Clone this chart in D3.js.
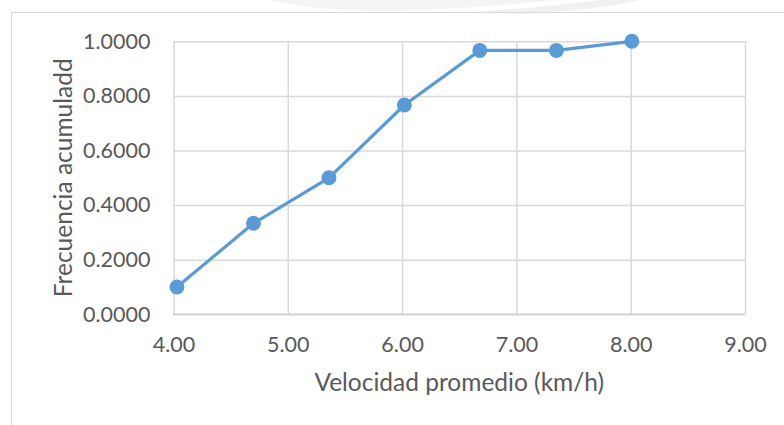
<!DOCTYPE html>
<html>
<head>
<meta charset="utf-8">
<script src="https://cdn.jsdelivr.net/npm/d3@7"></script>
<style>
  html, body { margin: 0; padding: 0; background: #fff; }
  svg { display: block; }
</style>
</head>
<body>
<svg id="chart" width="784" height="425"></svg>
<script>
// Cumulative frequency by mean speed class
const speeds = [4.03, 4.70, 5.36, 6.02, 6.68, 7.35, 8.01];
const cumFreq = [0.1000, 0.3333, 0.5000, 0.7667, 0.9667, 0.9667, 1.0000];
const xTicks = [4, 5, 6, 7, 8, 9];
const yTicks = [0, 0.2, 0.4, 0.6, 0.8, 1.0];
const xTitle = "Velocidad promedio (km/h)";
const yTitle = "Frecuencia acumuladd";

const svg = d3.select("#chart");
const W = 784, H = 425;
const plot = { left: 173.5, right: 745, top: 41.3, bottom: 314.3 };
const font = "Lato, 'Open Sans', sans-serif";
const textColor = "#595959";

// faint background mark above the frame
const wm = svg.append("g").attr("fill", "#f4f4f4");
wm.append("path").attr("d", "M270,0 Q330,14 420,10 Q500,6 560,0 Z");
wm.append("path").attr("d", "M470,12 Q540,8 600,0 L640,0 Q600,10 520,14 Z").attr("fill", "#f1f1f1");

// chart frame
svg.append("rect")
  .attr("x", 11.5).attr("y", 12.5)
  .attr("width", W).attr("height", H)
  .attr("fill", "none").attr("stroke", "#d9d9d9").attr("stroke-width", 1);

const x = d3.scaleLinear().domain([4, 9]).range([plot.left, plot.right]);
const y = d3.scaleLinear().domain([0, 1]).range([plot.bottom, plot.top]);

// gridlines
const grid = svg.append("g");
grid.append("g")
  .attr("transform", `translate(0,${plot.bottom})`)
  .call(d3.axisBottom(x).tickValues(xTicks).tickSize(-(plot.bottom - plot.top)).tickFormat(""))
  .call(g => g.select(".domain").remove())
  .call(g => g.selectAll("line").attr("stroke", "#d9d9d9").attr("stroke-width", 1.5));
grid.append("g")
  .attr("transform", `translate(${plot.left},0)`)
  .call(d3.axisLeft(y).tickValues(yTicks).tickSize(-(plot.right - plot.left)).tickFormat(""))
  .call(g => g.select(".domain").remove())
  .call(g => g.selectAll("line").attr("stroke", "#d9d9d9").attr("stroke-width", 1.5));

// baseline axis
svg.append("line")
  .attr("x1", plot.left).attr("x2", plot.right)
  .attr("y1", y(0)).attr("y2", y(0))
  .attr("stroke", "#cfcfcf").attr("stroke-width", 1.5);

// tick labels
const xAxis = svg.append("g")
  .attr("transform", `translate(0,${plot.bottom})`)
  .call(d3.axisBottom(x).tickValues(xTicks).tickSize(0).tickPadding(22).tickFormat(d3.format(".2f")));
xAxis.select(".domain").remove();
xAxis.selectAll("text").attr("font-family", font).attr("font-size", 21.5).attr("fill", textColor);

const yAxis = svg.append("g")
  .attr("transform", `translate(${plot.left},0)`)
  .call(d3.axisLeft(y).tickValues(yTicks).tickSize(0).tickPadding(23).tickFormat(d3.format(".4f")));
yAxis.select(".domain").remove();
yAxis.selectAll("text").attr("font-family", font).attr("font-size", 21.5).attr("fill", textColor);

// axis titles
svg.append("text")
  .attr("x", (plot.left + plot.right) / 2).attr("y", 391)
  .attr("text-anchor", "middle")
  .attr("font-family", font).attr("font-size", 24.5).attr("fill", textColor)
  .text(xTitle);
svg.append("text")
  .attr("transform", `translate(72,${(plot.top + plot.bottom) / 2}) rotate(-90)`)
  .attr("text-anchor", "middle")
  .attr("font-family", font).attr("font-size", 24.5).attr("fill", textColor)
  .text(yTitle);

// series
const pts = speeds.map((s, i) => [s, cumFreq[i]]);
const blue = "#5b9bd5";
svg.append("path")
  .datum(pts)
  .attr("fill", "none").attr("stroke", blue).attr("stroke-width", 3.2)
  .attr("stroke-linejoin", "round")
  .attr("d", d3.line().x(d => x(d[0])).y(d => y(d[1])));
svg.append("g").selectAll("circle")
  .data(pts).join("circle")
  .attr("cx", d => x(d[0])).attr("cy", d => y(d[1]))
  .attr("r", 7.5).attr("fill", blue);
</script>
</body>
</html>
